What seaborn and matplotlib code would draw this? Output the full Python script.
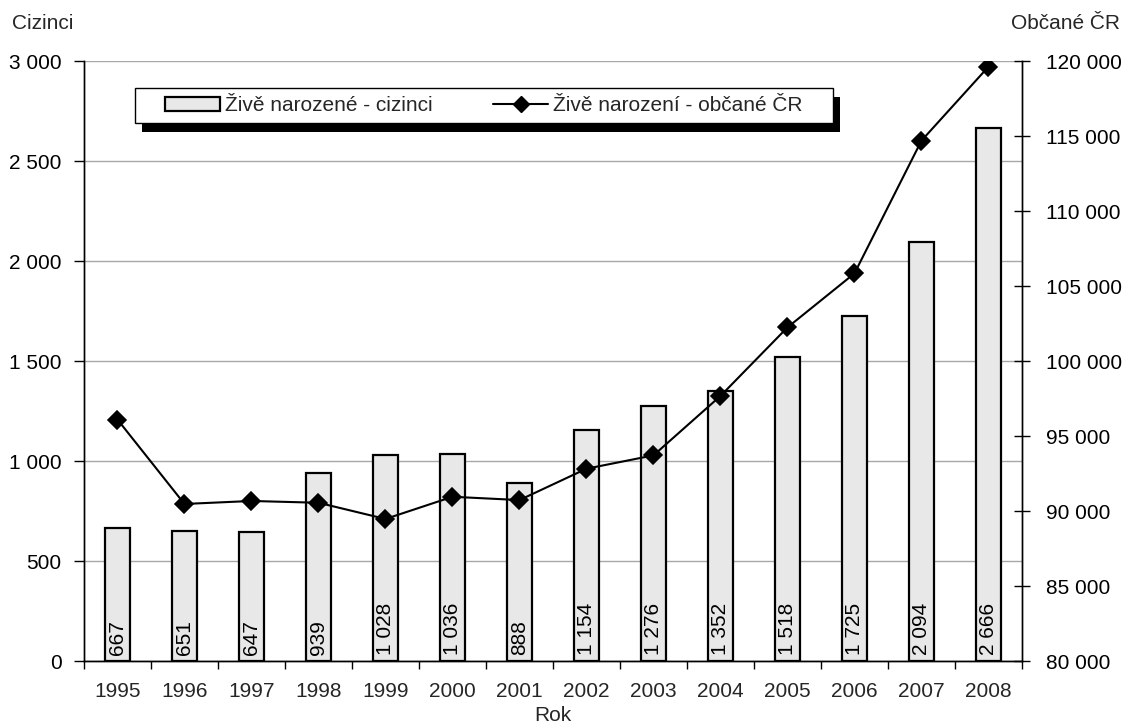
import seaborn as sns
import matplotlib.pyplot as plt
import pandas as pd
from matplotlib.ticker import FuncFormatter, MultipleLocator, FixedLocator
from matplotlib.patches import Patch, Rectangle
from matplotlib.lines import Line2D

sns.set_theme(style="white")
plt.rcParams['font.family'] = ['Liberation Sans', 'DejaVu Sans']

# ── Data ───────────────────────────────────────────────
years = ["1995", "1996", "1997", "1998", "1999", "2000", "2001",
         "2002", "2003", "2004", "2005", "2006", "2007", "2008"]
foreigners = [667, 651, 647, 939, 1028, 1036, 888,
              1154, 1276, 1352, 1518, 1725, 2094, 2666]
citizens = [96100, 90470, 90670, 90550, 89470, 90950, 90730,
            92820, 93710, 97670, 102240, 105840, 114690, 119620]

df = pd.DataFrame({"rok": years, "cizinci": foreigners, "obcane": citizens})

FS = 15


def fmt(v, pos=None):
    return f"{int(round(v)):,}".replace(",", " ")


fig, ax = plt.subplots(figsize=(11.27, 7.28), dpi=100)
fig.subplots_adjust(left=0.0745, right=0.9068, top=0.9162, bottom=0.092)

# ── Bars (left axis) ───────────────────────────────────
sns.barplot(data=df, x="rok", y="cizinci", color="#e8e8e8", width=0.36,
            edgecolor="black", linewidth=1.6, saturation=1, ax=ax)
for p, v in zip(ax.patches, foreigners):
    ax.text(p.get_x() + p.get_width() / 2, 28, fmt(v), rotation=90,
            ha="center", va="bottom", fontsize=15, color="black")

ax.set_ylim(0, 3000)
ax.set_xlim(-0.5, len(years) - 0.5)
ax.yaxis.set_major_locator(MultipleLocator(500))
ax.yaxis.set_major_formatter(FuncFormatter(fmt))
ax.grid(axis="y", color="#a8a8a8", linewidth=1)
ax.set_axisbelow(True)
ax.set_ylabel("")
ax.set_xlabel("Rok", fontsize=FS, labelpad=4)
ax.tick_params(axis="y", left=True, direction="out", length=7, width=1,
               labelsize=FS, pad=9, colors="black")
ax.tick_params(axis="x", which="major", bottom=False, labelsize=FS, pad=9)
ax.xaxis.set_minor_locator(FixedLocator([i + 0.5 for i in range(-1, len(years))]))
ax.tick_params(axis="x", which="minor", bottom=True, direction="out",
               length=6, width=1, color="black")
for s in ax.spines.values():
    s.set_color("black")
    s.set_linewidth(1)
ax.spines["top"].set_visible(False)

# ── Line (right axis) ──────────────────────────────────
ax2 = ax.twinx()
sns.pointplot(data=df, x="rok", y="obcane", color="black", markers="D",
              linestyles="-", markersize=9, linewidth=1.5, ax=ax2)
ax2.set_ylim(80000, 120000)
ax2.set_xlim(-0.5, len(years) - 0.5)
ax2.yaxis.set_major_locator(MultipleLocator(5000))
ax2.yaxis.set_major_formatter(FuncFormatter(fmt))
ax2.set_ylabel("")
ax2.set_xlabel("")
ax2.tick_params(axis="y", right=True, direction="inout", length=12, width=1,
                labelsize=FS, pad=11, colors="black")
ax2.grid(False)
for s in ax2.spines.values():
    s.set_color("black")
    s.set_linewidth(1)
ax2.spines["top"].set_visible(False)

fig.text(0.0106, 0.968, "Cizinci", fontsize=FS, ha="left", va="center")
fig.text(0.9938, 0.968, "Občané ČR", fontsize=FS, ha="right", va="center")

# ── Legend with shadowed frame ─────────────────────────
ax2.add_patch(Rectangle((0.0544 + 0.0075, 0.882), 0.7441, 0.058,
                        transform=ax2.transAxes, facecolor="black",
                        edgecolor="none", zorder=4, clip_on=False))
ax2.add_patch(Rectangle((0.0544, 0.897), 0.7441, 0.058,
                        transform=ax2.transAxes, facecolor="white",
                        edgecolor="black", linewidth=1, zorder=4.5, clip_on=False))
handles = [Patch(facecolor="#e8e8e8", edgecolor="black", linewidth=1.6),
           Line2D([], [], color="black", marker="D", markersize=8, linewidth=1.5)]
leg = ax2.legend(handles, ["Živě narozené - cizinci", "Živě narození - občané ČR"],
                 loc="center left", bbox_to_anchor=(0.0864, 0.926), ncol=2,
                 fontsize=FS, frameon=False, handlelength=2.64, handleheight=0.65,
                 handletextpad=0.24, columnspacing=2.9, borderpad=0,
                 borderaxespad=0)
leg.set_zorder(5)

plt.savefig("out.png", dpi=100)
